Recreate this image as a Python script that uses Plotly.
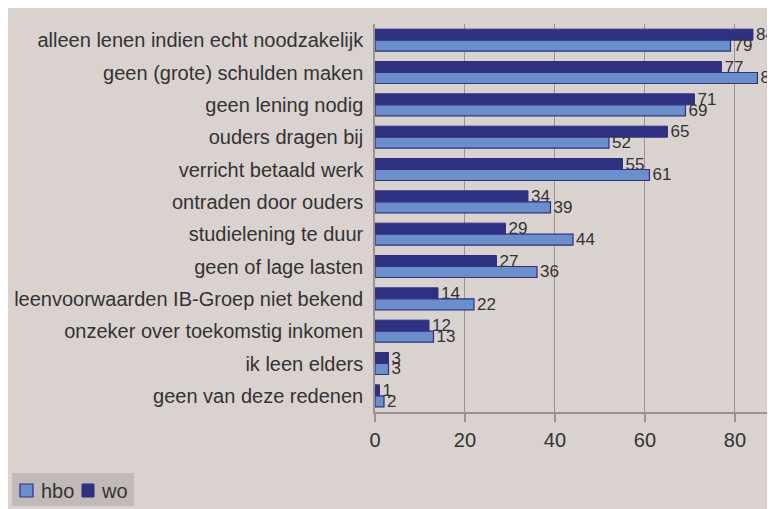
import plotly.graph_objects as go

categories = [
    "alleen lenen indien echt noodzakelijk",
    "geen (grote) schulden maken",
    "geen lening nodig",
    "ouders dragen bij",
    "verricht betaald werk",
    "ontraden door ouders",
    "studielening te duur",
    "geen of lage lasten",
    "leenvoorwaarden IB-Groep niet bekend",
    "onzeker over toekomstig inkomen",
    "ik leen elders",
    "geen van deze redenen",
]
wo = [84, 77, 71, 65, 55, 34, 29, 27, 14, 12, 3, 1]
hbo = [79, 85, 69, 52, 61, 39, 44, 36, 22, 13, 3, 2]
x_ticks = [0, 20, 40, 60, 80]
legend_names = ["hbo", "wo"]

BG = "#D9D2CF"
GRID = "#9C9391"
DARK = "#2E3082"
LIGHT = "#6A8FCB"
TXT = "#333333"
LEG_BG = "#C2BAB8"
FONT = "Liberation Sans, Arial, sans-serif"

W, H = 767, 501
ML, MR, MT, MB = 367, 0, 16, 97
PW, PH = W - ML - MR, H - MT - MB


def px(x):
    return (x - ML) / PW


def py(y):
    return (H - MB - y) / PH


fig = go.Figure()
fig.add_trace(go.Bar(
    y=categories, x=wo, name="wo", orientation="h",
    marker=dict(color=DARK, line=dict(color=DARK, width=1)),
    text=[str(v) for v in wo], textposition="outside", cliponaxis=False,
    constraintext="none",
    textfont=dict(size=17, color=TXT, family=FONT),
))
fig.add_trace(go.Bar(
    y=categories, x=hbo, name="hbo", orientation="h",
    marker=dict(color=LIGHT, line=dict(color=DARK, width=1.2)),
    text=[str(v) for v in hbo], textposition="outside", cliponaxis=False,
    constraintext="none",
    textfont=dict(size=17, color=TXT, family=FONT),
))

fig.update_layout(
    width=W, height=H,
    margin=dict(l=ML, r=MR, t=MT, b=MB, pad=0),
    paper_bgcolor=BG, plot_bgcolor=BG,
    barmode="group", bargap=0.32, bargroupgap=0,
    font=dict(family=FONT, size=20, color=TXT),
    showlegend=False,
)
fig.update_xaxes(
    range=[0, 88.9], tickvals=x_ticks, ticktext=[str(v) for v in x_ticks],
    showgrid=True, gridcolor=GRID, gridwidth=1,
    showline=True, linecolor=GRID, linewidth=1.5,
    ticks="outside", ticklen=8, tickcolor=GRID, tickwidth=1.5,
    ticklabelstandoff=1,
    tickfont=dict(size=20, color=TXT, family=FONT),
    zeroline=False,
)
fig.update_yaxes(
    autorange="reversed", showgrid=False,
    showline=True, linecolor=GRID, linewidth=1.5,
    ticks="", ticklabelstandoff=6,
    tickfont=dict(size=20, color=TXT, family=FONT),
)

# legend box drawn as shapes + text (compact, like the original)
fig.add_shape(type="rect", xref="paper", yref="paper",
              x0=px(4), x1=px(126), y0=py(498), y1=py(465),
              fillcolor=LEG_BG, line=dict(width=0), layer="above")
fig.add_shape(type="rect", xref="paper", yref="paper",
              x0=px(12), x1=px(25), y0=py(489), y1=py(476),
              fillcolor=LIGHT, line=dict(color=DARK, width=1.2), layer="above")
fig.add_shape(type="rect", xref="paper", yref="paper",
              x0=px(74), x1=px(86), y0=py(489), y1=py(476),
              fillcolor=DARK, line=dict(color=DARK, width=1), layer="above")
fig.add_annotation(xref="paper", yref="paper", x=px(31), y=py(482.5),
                   text=legend_names[0], showarrow=False, xanchor="left",
                   yanchor="middle", font=dict(size=20, color=TXT, family=FONT))
fig.add_annotation(xref="paper", yref="paper", x=px(91), y=py(482.5),
                   text=legend_names[1], showarrow=False, xanchor="left",
                   yanchor="middle", font=dict(size=20, color=TXT, family=FONT))

fig.write_html("out.html")
